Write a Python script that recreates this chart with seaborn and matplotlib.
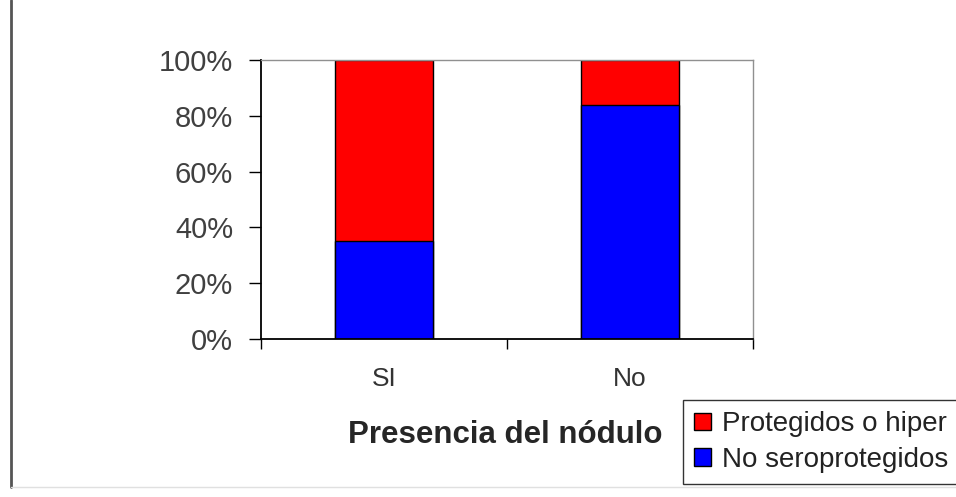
import numpy as np
import pandas as pd
import matplotlib
matplotlib.use("Agg")
import matplotlib.pyplot as plt
import seaborn as sns
from matplotlib.ticker import PercentFormatter
from matplotlib.lines import Line2D

# values (percent of each group)
categorias = ["SI", "No"]
no_seroprotegidos = [35, 84]
protegidos = [65, 16]

df = pd.DataFrame({
    "nodulo": categorias,
    "no_sero": no_seroprotegidos,
    "prot": protegidos,
})
df["total"] = df["no_sero"] + df["prot"]

sns.set_style("white")
plt.rcParams["font.family"] = ["Liberation Sans", "DejaVu Sans"]

fig = plt.figure(figsize=(9.56, 4.97), dpi=100)
ax = fig.add_axes([261 / 956, 1 - 339 / 497, 492 / 956, 279 / 497])

# stacked: full-height red first, then blue on top of it
sns.barplot(data=df, x="nodulo", y="total", color="#ff0000", width=0.4,
            edgecolor="black", linewidth=1, saturation=1, ax=ax,
            label="Protegidos o hiper")
sns.barplot(data=df, x="nodulo", y="no_sero", color="#0000ff", width=0.4,
            edgecolor="black", linewidth=1, saturation=1, ax=ax,
            label="No seroprotegidos")
handles, labels = ax.get_legend_handles_labels()
if ax.get_legend() is not None:
    ax.get_legend().remove()

ax.set_xlim(-0.5, 1.5)
ax.set_ylim(0, 100)
ax.set_yticks(np.arange(0, 101, 20))
ax.yaxis.set_major_formatter(PercentFormatter(decimals=0))
ax.tick_params(axis="y", which="major", direction="out", length=9, width=1,
               color="black", labelsize=21, labelcolor="#404040", pad=11, left=True)
ax.set_xticks(range(len(categorias)))
ax.set_xticklabels(categorias, fontsize=19, color="#333333")
ax.tick_params(axis="x", which="major", length=0, pad=20)
ax.set_xticks([-0.5, 0.5, 1.5], minor=True)
ax.tick_params(axis="x", which="minor", direction="out", length=7, width=1, color="black", bottom=True)

ax.set_ylabel("")
ax.set_xlabel("Presencia del nódulo", fontsize=22.5, fontweight="bold")
ax.xaxis.set_label_coords(0.497, -0.29)

for side in ["top", "right"]:
    ax.spines[side].set_color("#909090")
    ax.spines[side].set_linewidth(1)
for side in ["left", "bottom"]:
    ax.spines[side].set_color("black")
    ax.spines[side].set_linewidth(1.3)

order = [labels.index("Protegidos o hiper"), labels.index("No seroprotegidos")]
leg = fig.legend([handles[i] for i in order], [labels[i] for i in order],
                 loc="upper left", bbox_to_anchor=(683 / 956, 1 - 400 / 497),
                 frameon=True, fancybox=False, edgecolor="black", fontsize=20,
                 handlelength=0.6, handleheight=0.6, handletextpad=0.4,
                 borderpad=0.4, labelspacing=0.35, borderaxespad=0)
leg.get_frame().set_linewidth(1)
for t in leg.get_texts():
    t.set_color("#222222")

# outer frame line on the left edge of the image
fig.add_artist(Line2D([11 / 956, 11 / 956], [1 - 487 / 497, 1], color="#555555", lw=2))
fig.add_artist(Line2D([11 / 956, 1], [1 - 487 / 497, 1 - 487 / 497], color="#e0e0e0", lw=1))

fig.savefig("out.png", dpi=100)
